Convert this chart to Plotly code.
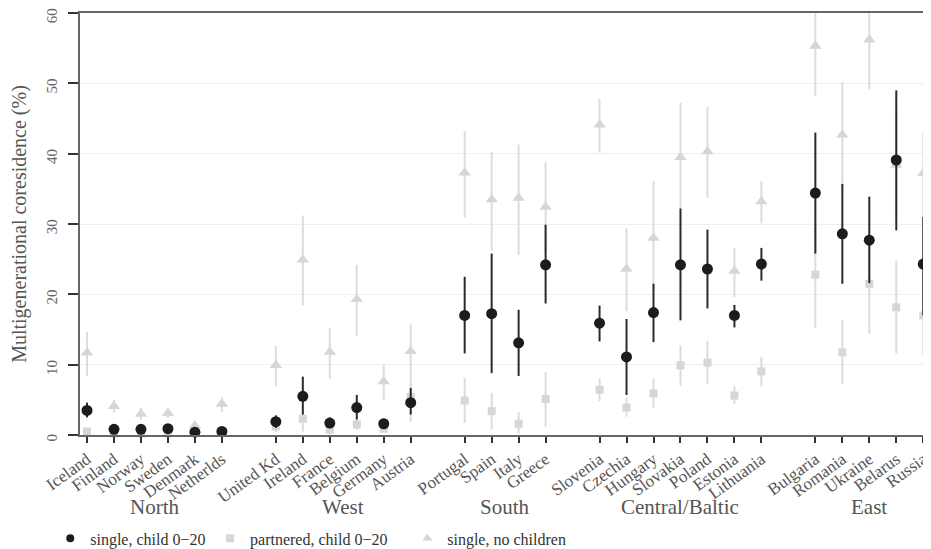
import plotly.graph_objects as go

# ---------------- data ----------------
countries = ["Iceland", "Finland", "Norway", "Sweden", "Denmark", "Netherlds",
             "United Kd", "Ireland", "France", "Belgium", "Germany", "Austria",
             "Portugal", "Spain", "Italy", "Greece",
             "Slovenia", "Czechia", "Hungary", "Slovakia", "Poland", "Estonia", "Lithuania",
             "Bulgaria", "Romania", "Ukraine", "Belarus", "Russia"]
regions = (["North"] * 6 + ["West"] * 6 + ["South"] * 4 +
           ["Central/Baltic"] * 7 + ["East"] * 5)
group_names = ["North", "West", "South", "Central/Baltic", "East"]

# single, child 0-20
single_child = [3.5, 0.8, 0.8, 0.9, 0.4, 0.5,
                1.9, 5.5, 1.7, 3.9, 1.6, 4.6,
                17.0, 17.25, 13.1, 24.2,
                15.9, 11.1, 17.4, 24.2, 23.6, 17.0, 24.3,
                34.4, 28.6, 27.7, 39.1, 24.3]
single_child_lo = [2.5, 0.3, 0.3, 0.4, 0.0, 0.1,
                   1.0, 2.9, 1.0, 2.2, 1.0, 2.9,
                   11.6, 8.8, 8.4, 18.7,
                   13.3, 5.7, 13.2, 16.3, 18.0, 15.3, 21.95,
                   25.8, 21.5, 21.6, 29.1, 17.0]
single_child_hi = [4.6, 1.3, 1.3, 1.4, 1.0, 1.0,
                   2.8, 8.3, 2.5, 5.7, 2.3, 6.7,
                   22.5, 25.8, 17.8, 29.9,
                   18.4, 16.5, 21.5, 32.2, 29.2, 18.5, 26.6,
                   43.0, 35.7, 33.9, 49.0, 31.0]

# partnered, child 0-20
partnered = [0.5, 0.2, 0.2, 0.2, 0.3, 0.3,
             1.2, 2.3, 0.75, 1.5, 0.9, 5.4,
             4.9, 3.4, 1.6, 5.1,
             6.45, 3.9, 5.9, 9.9, 10.3, 5.6, 9.05,
             22.8, 11.75, 21.5, 18.15, 17.0]
partnered_lo = [0.1, 0.0, 0.0, 0.0, 0.0, 0.0,
                0.4, 0.5, 0.1, 0.7, 0.4, 1.9,
                1.7, 0.75, 0.2, 1.2,
                4.8, 2.6, 3.8, 7.0, 7.2, 4.4, 6.9,
                15.2, 7.3, 14.4, 11.6, 11.4]
partnered_hi = [1.0, 0.5, 0.5, 0.5, 0.7, 0.7,
                2.2, 3.8, 1.3, 2.4, 1.5, 8.5,
                8.1, 6.0, 3.2, 9.0,
                8.05, 5.3, 8.0, 12.7, 13.4, 6.9, 11.1,
                30.5, 16.3, 28.5, 24.8, 22.8]

# single, no children
no_children = [11.7, 4.1, 3.0, 3.1, 1.3, 4.4,
               9.9, 24.9, 11.8, 19.3, 7.6, 11.9,
               37.3, 33.5, 33.7, 32.4,
               44.1, 23.6, 28.0, 39.5, 40.3, 23.3, 33.2,
               55.3, 42.7, 56.2, 38.4, 37.2]
no_children_lo = [8.4, 3.2, 2.2, 2.4, 0.7, 3.3,
                  6.9, 18.4, 8.0, 14.0, 5.0, 8.2,
                  30.9, 26.2, 25.6, 26.0,
                  40.2, 17.6, 20.5, 32.0, 33.7, 19.6, 30.1,
                  48.2, 35.0, 49.2, 31.0, 31.0]
no_children_hi = [14.7, 5.0, 3.9, 3.9, 2.0, 5.4,
                  12.7, 31.2, 15.2, 24.2, 10.0, 15.7,
                  43.2, 40.3, 41.3, 38.8,
                  47.8, 29.4, 36.1, 47.2, 46.6, 26.6, 36.1,
                  62.0, 50.2, 63.0, 46.0, 43.0]

y_ticks = [0, 10, 20, 30, 40, 50, 60]

# ------------- positions (one empty slot between regions) -------------
xpos = []
p = 0
prev = None
for r in regions:
    if prev is not None and r != prev:
        p += 1
    xpos.append(p)
    p += 1
    prev = r

group_centers = []
for g in group_names:
    xs = [xv for xv, r in zip(xpos, regions) if r == g]
    group_centers.append((min(xs) + max(xs)) / 2)

SERIF = "Liberation Serif"
DARK = "#1c1c1c"
LIGHT = "#d6d6d6"


def errs(v, lo, hi):
    return [h - x for x, h in zip(v, hi)], [x - l for x, l in zip(v, lo)]


fig = go.Figure()

up, dn = errs(no_children, no_children_lo, no_children_hi)
fig.add_trace(go.Scatter(
    x=xpos, y=no_children, mode="markers", name="single, no children",
    marker=dict(symbol="triangle-up", size=11, color=LIGHT),
    error_y=dict(type="data", symmetric=False, array=up, arrayminus=dn,
                 color="#dcdcdc", thickness=2, width=0),
    showlegend=False))

up, dn = errs(partnered, partnered_lo, partnered_hi)
fig.add_trace(go.Scatter(
    x=xpos, y=partnered, mode="markers", name="partnered, child 0\u201320",
    marker=dict(symbol="square", size=8, color=LIGHT),
    error_y=dict(type="data", symmetric=False, array=up, arrayminus=dn,
                 color="#dcdcdc", thickness=2, width=0),
    cliponaxis=False, showlegend=False))

up, dn = errs(single_child, single_child_lo, single_child_hi)
fig.add_trace(go.Scatter(
    x=xpos, y=single_child, mode="markers", name="single, child 0\u201320",
    marker=dict(symbol="circle", size=11, color=DARK),
    error_y=dict(type="data", symmetric=False, array=up, arrayminus=dn,
                 color="#2a2a2a", thickness=2, width=0),
    cliponaxis=False, showlegend=False))

# legend entries (small symbols as in the original), one legend box each
legend_items = [("single, child 0\u221220", "circle", DARK, 8, "legend", -0.035),
                ("partnered, child 0\u221220", "square", LIGHT, 8, "legend2", 0.153),
                ("single, no children", "triangle-up", LIGHT, 9, "legend3", 0.385)]
legend_boxes = {}
for name, sym, col, sz, lg, lx in legend_items:
    fig.add_trace(go.Scatter(x=[None], y=[None], mode="markers", name=name,
                             legend=lg, showlegend=True,
                             marker=dict(symbol=sym, size=sz, color=col)))
    legend_boxes[lg] = dict(orientation="h", x=lx, xanchor="left", y=-0.245,
                            yanchor="middle",
                            font=dict(family=SERIF, size=16, color="#333333"),
                            bgcolor="rgba(0,0,0,0)", borderwidth=0, itemwidth=30)

for g, c in zip(group_names, group_centers):
    fig.add_annotation(x=c, y=-0.170, xref="x", yref="paper", text=g,
                       showarrow=False, yanchor="middle", xanchor="center",
                       font=dict(family=SERIF, size=21, color="#555555"))

fig.update_layout(
    width=923, height=541,
    margin=dict(l=72, r=1, t=5, b=114, autoexpand=False),
    paper_bgcolor="white", plot_bgcolor="white",
    font=dict(family=SERIF, color="#444444"),
    showlegend=True,
    xaxis=dict(range=[-0.26, 31.25], tickmode="array", tickvals=xpos, ticktext=countries,
               tickangle=-36, ticks="outside", ticklen=6, tickwidth=1.5, tickcolor="#333333",
               showgrid=False, zeroline=False, showline=True, linecolor="#666666",
               linewidth=1.5, mirror=True, automargin=False,
               tickfont=dict(family=SERIF, size=17, color="#555555")),
    yaxis=dict(range=[0, 60], tickmode="array", tickvals=y_ticks,
               ticktext=[str(v) for v in y_ticks], tickangle=-90,
               ticks="outside", ticklen=10, tickwidth=1.5, tickcolor="#333333",
               ticklabelstandoff=5, ticklabeloverflow="allow", ticklabelshift=5,
               showgrid=True, gridcolor="#efefef", gridwidth=1, zeroline=False,
               showline=True, linecolor="#666666", linewidth=1.5, mirror=True,
               automargin=False,
               tickfont=dict(family=SERIF, size=15, color="#666666"),
               title=dict(text="Multigenerational coresidence (%)", standoff=12,
                          font=dict(family=SERIF, size=20, color="#555555"))),
    **legend_boxes,
)

fig.write_html("out.html")
